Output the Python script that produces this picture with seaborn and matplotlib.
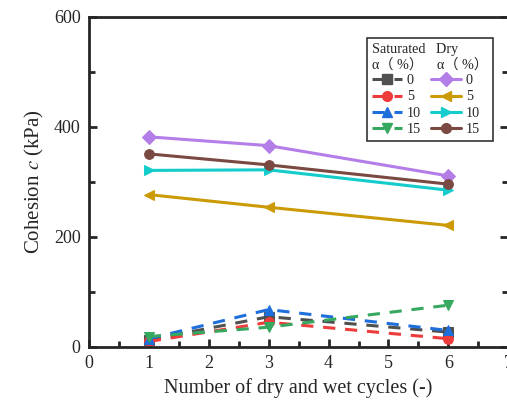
import numpy as np
import pandas as pd
import matplotlib
matplotlib.use("Agg")
import matplotlib.pyplot as plt
import seaborn as sns
from matplotlib.lines import Line2D
from matplotlib.ticker import MultipleLocator

sns.set_style("ticks")
plt.rcParams['font.family'] = ['Liberation Serif', 'Noto Sans CJK SC', 'DejaVu Serif']
plt.rcParams['mathtext.fontset'] = 'stix'

cycles = [1, 3, 6]
alpha_labels = ["0", "5", "10", "15"]

sat_0 = [13, 55, 27]
sat_5 = [10, 45, 15]
sat_10 = [15, 68, 30]
sat_15 = [19, 36, 76]

dry_0 = [382, 366, 311]
dry_5 = [277, 254, 221]
dry_10 = [321, 322, 285]
dry_15 = [351, 331, 296]

sat_colors = ["#505050", "#ee3b3b", "#1e6fdc", "#36a860"]
sat_markers = ["s", "o", "^", "v"]
dry_colors = ["#b47ee8", "#cc9a06", "#14cccc", "#7a4a42"]
dry_markers = ["D", "<", ">", "o"]

fig = plt.figure(figsize=(5.07, 4.03), dpi=100)
ax = fig.add_axes([0.1755, 0.139, 0.827, 0.819])

sat_series = [sat_0, sat_5, sat_10, sat_15]
dry_series = [dry_0, dry_5, dry_10, dry_15]

dash = (0, (4, 3.2))
sat_handles = []
dry_handles = []
for vals, c, m in zip(sat_series, sat_colors, sat_markers):
    df = pd.DataFrame({"x": cycles, "y": vals})
    sns.lineplot(data=df, x="x", y="y", ax=ax, color=c, marker=m, markersize=7,
                 markeredgecolor=c, linewidth=2.2, linestyle=dash)
    sat_handles.append(Line2D([], [], color=c, marker=m, markersize=7,
                              markeredgecolor=c, linewidth=2.2, linestyle=dash))
for vals, c, m in zip(dry_series, dry_colors, dry_markers):
    df = pd.DataFrame({"x": cycles, "y": vals})
    sns.lineplot(data=df, x="x", y="y", ax=ax, color=c, marker=m, markersize=7,
                 markeredgecolor=c, linewidth=2.2)
    dry_handles.append(Line2D([], [], color=c, marker=m, markersize=7,
                              markeredgecolor=c, linewidth=2.2))

ax.set_xlim(0, 7)
ax.set_ylim(0, 600)
ax.xaxis.set_major_locator(MultipleLocator(1))
ax.xaxis.set_minor_locator(MultipleLocator(0.5))
ax.yaxis.set_major_locator(MultipleLocator(200))
ax.yaxis.set_minor_locator(MultipleLocator(100))
ax.tick_params(which="both", direction="in", top=False, right=True, width=2,
               labelsize=13, pad=6)
ax.tick_params(which="major", length=6)
ax.tick_params(which="minor", length=4)
for s in ax.spines.values():
    s.set_linewidth(2)
ax.set_xlabel("Number of dry and wet cycles (-)", fontsize=14.5)
ax.set_ylabel("Cohesion $c$ (kPa)", fontsize=15, labelpad=6)

title = "Saturated   Dry\nα\uff08 %\uff09    α\uff08 %\uff09"
leg = ax.legend(sat_handles + dry_handles, alpha_labels + alpha_labels, ncol=2,
                loc="upper right", bbox_to_anchor=(0.964, 0.937), borderaxespad=0,
                title=title,
                fontsize=10.2, title_fontsize=10.2, frameon=True, fancybox=False,
                edgecolor="black", handlelength=2.1, handletextpad=0.35,
                columnspacing=0.7, labelspacing=0.22, borderpad=0.35)
leg.get_title().set_family(['Liberation Serif', 'Noto Sans CJK SC'])
leg._legend_box.align = "left"
leg.get_frame().set_linewidth(1.2)

fig.savefig("out.png", dpi=100)
